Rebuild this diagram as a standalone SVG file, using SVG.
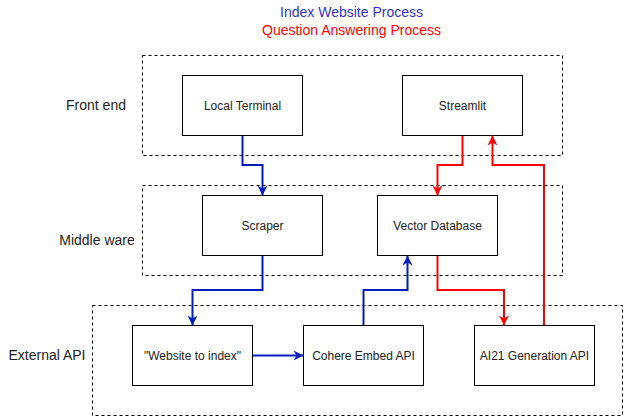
<svg xmlns="http://www.w3.org/2000/svg" width="625" height="418" viewBox="0 0 625 418">
  <style>
    .layer { fill: none; stroke: #000; stroke-width: 1; stroke-dasharray: 3 3; }
    .node rect { fill: #fff; stroke: #000; stroke-width: 1; }
    .node text { font-family: "Liberation Sans", Arial, sans-serif; font-size: 12px; fill: #222; text-anchor: middle; }
    .lbl { font-family: "Liberation Sans", Arial, sans-serif; font-size: 14px; fill: #222; text-anchor: middle; }
    .title { font-family: "Liberation Sans", Arial, sans-serif; font-size: 14px; text-anchor: middle; }
    .blue { fill: none; stroke: #001DBC; stroke-width: 2; marker-end: url(#ab); }
    .red { fill: none; stroke: #FF0000; stroke-width: 2; marker-end: url(#ar); }
  </style>
  <defs>
    <marker id="ab" viewBox="0 0 10 10" refX="10" refY="5" markerWidth="10" markerHeight="10" markerUnits="userSpaceOnUse" orient="auto">
      <path d="M0,0 L10,5 L0,10 L3,5 Z" fill="#001DBC"/>
    </marker>
    <marker id="ar" viewBox="0 0 10 10" refX="10" refY="5" markerWidth="10" markerHeight="10" markerUnits="userSpaceOnUse" orient="auto">
      <path d="M0,0 L10,5 L0,10 L3,5 Z" fill="#FF0000"/>
    </marker>
  </defs>
  <rect width="625" height="418" fill="#fff"/>

  <g id="titles">
    <text class="title" x="351.5" y="17" fill="#3333CC">Index Website Process</text>
    <text class="title" x="351.5" y="35" fill="#FF0000">Question Answering Process</text>
  </g>

  <g id="layer-front">
    <rect class="layer" x="142.5" y="55.5" width="420" height="100"/>
    <text class="lbl" x="96" y="110">Front end</text>
  </g>
  <g id="layer-middle">
    <rect class="layer" x="142.5" y="185.5" width="420" height="90"/>
    <text class="lbl" x="97" y="245">Middle ware</text>
  </g>
  <g id="layer-external">
    <rect class="layer" x="92.5" y="305.5" width="530" height="110"/>
    <text class="lbl" x="47" y="360">External API</text>
  </g>

  <g id="local-terminal" class="node">
    <rect x="182.5" y="75.5" width="120" height="60"/>
    <text x="242.5" y="109.5">Local Terminal</text>
  </g>
  <g id="streamlit" class="node">
    <rect x="402.5" y="75.5" width="120" height="60"/>
    <text x="462.5" y="109.5">Streamlit</text>
  </g>
  <g id="scraper" class="node">
    <rect x="202.5" y="195.5" width="120" height="60"/>
    <text x="262.5" y="229.5">Scraper</text>
  </g>
  <g id="vector-database" class="node">
    <rect x="377.5" y="195.5" width="120" height="60"/>
    <text x="437.5" y="229.5">Vector Database</text>
  </g>
  <g id="website-to-index" class="node">
    <rect x="132.5" y="325.5" width="120" height="60"/>
    <text x="192.5" y="359.5">"Website to index"</text>
  </g>
  <g id="cohere-embed-api" class="node">
    <rect x="303.5" y="325.5" width="120" height="60"/>
    <text x="363.5" y="359.5">Cohere Embed API</text>
  </g>
  <g id="ai21-generation-api" class="node">
    <rect x="474.5" y="325.5" width="120" height="60"/>
    <text x="534.5" y="359.5">AI21 Generation API</text>
  </g>

  <g id="connectors">
    <path class="blue" d="M242.5,136 V165 H262.5 V195.5"/>
    <path class="red" d="M462.5,136 V165 H437.5 V195.5"/>
    <path class="red" d="M544,325 V165 H492.5 V135.5"/>
    <path class="blue" d="M262.5,256 V290 H192.5 V325.5"/>
    <path class="blue" d="M253,355.5 H303.5"/>
    <path class="blue" d="M363.5,325 V290 H407.5 V255.5"/>
    <path class="red" d="M437.5,256 V290 H504 V325.5"/>
  </g>
</svg>
